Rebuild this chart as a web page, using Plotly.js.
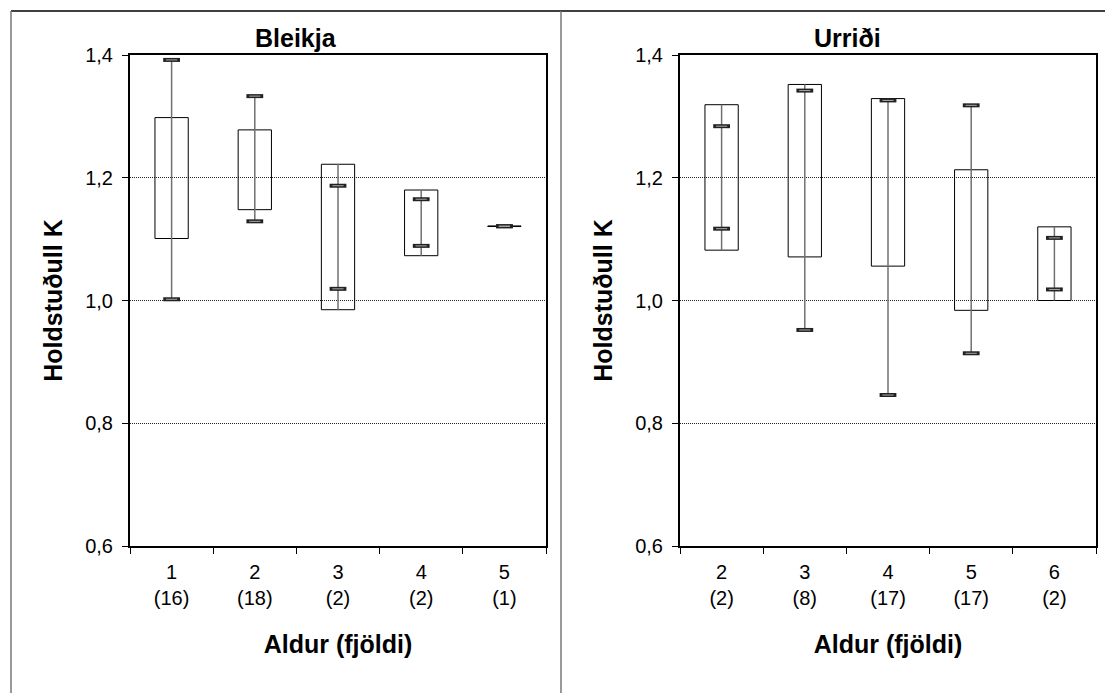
<!DOCTYPE html>
<html>
<head>
<meta charset="utf-8">
<script src="https://cdn.plot.ly/plotly-3.0.1.min.js"></script>
<style>html,body{margin:0;padding:0;background:#fff;}#chart{width:1105px;height:693px;}</style>
</head>
<body>
<div id="chart"></div>
<script>
// ---- Data: Bleikja (left panel) ----
var ageB = ['1', '2', '3', '4', '5'];
var countB = [16, 18, 2, 2, 1];
var boxTopB = [1.298, 1.278, 1.222, 1.180, 1.1215];
var boxBotB = [1.101, 1.148, 0.985, 1.073, 1.1205];
var maxB = [1.392, 1.333, 1.187, 1.165, 1.121];
var minB = [1.002, 1.129, 1.019, 1.089, 1.121];

// ---- Data: Urriði (right panel) ----
var ageU = ['2', '3', '4', '5', '6'];
var countU = [2, 8, 17, 17, 2];
var boxTopU = [1.319, 1.352, 1.329, 1.213, 1.120];
var boxBotU = [1.082, 1.071, 1.056, 0.984, 1.000];
var maxU = [1.284, 1.342, 1.326, 1.318, 1.102];
var minU = [1.117, 0.952, 0.846, 0.914, 1.018];

var panelTitles = ['Bleikja', 'Urriði'];
var yTitle = 'Holdstuðull K';
var xTitle = 'Aldur (fjöldi)';
var yTicks = [0.6, 0.8, 1.0, 1.2, 1.4];

function cats(ages, counts) {
  return ages.map(function (a, i) { return a + '<br>(' + counts[i] + ')'; });
}

function panelTraces(ages, counts, top, bot, mx, mn, xa, ya) {
  var c = cats(ages, counts);
  var boxes = {
    type: 'bar', x: c, base: bot,
    y: top.map(function (t, i) { return t - bot[i]; }),
    width: 0.4,
    marker: { color: 'rgba(0,0,0,0)', line: { color: '#000', width: 1 } },
    xaxis: xa, yaxis: ya, hoverinfo: 'skip'
  };
  var lx = [], ly = [];
  c.forEach(function (cat, i) {
    var hi = Math.max(top[i], mx[i]);
    var lo = Math.min(bot[i], mn[i]);
    lx.push(cat, cat, cat);
    ly.push(hi, lo, null);
  });
  var hiLo = {
    type: 'scatter', mode: 'lines', x: lx, y: ly,
    line: { color: '#707070', width: 1.5 },
    xaxis: xa, yaxis: ya, hoverinfo: 'skip'
  };
  var mxAll = c.concat(c);
  var myAll = mx.concat(mn);
  var markOuter = {
    type: 'scatter', mode: 'markers', x: mxAll, y: myAll,
    marker: { symbol: 'line-ew', size: 12, line: { color: '#222', width: 4 } },
    xaxis: xa, yaxis: ya, hoverinfo: 'skip'
  };
  var markInner = {
    type: 'scatter', mode: 'markers', x: mxAll, y: myAll,
    marker: { symbol: 'line-ew', size: 8, line: { color: '#aaa', width: 1 } },
    xaxis: xa, yaxis: ya, hoverinfo: 'skip'
  };
  return [boxes, hiLo, markOuter, markInner];
}

var data = panelTraces(ageB, countB, boxTopB, boxBotB, maxB, minB, 'x', 'y')
  .concat(panelTraces(ageU, countU, boxTopU, boxBotU, maxU, minU, 'x2', 'y2'));

var W = 1105, H = 693;
var FONT = 'Liberation Sans, Arial, sans-serif';

function xAxis(domain, anchor) {
  return {
    domain: domain, anchor: anchor, type: 'category',
    tickson: 'boundaries', ticks: 'outside', ticklen: 6, tickwidth: 1, tickcolor: '#000',
    ticklabelstandoff: 7,
    showline: true, linecolor: '#000', linewidth: 2, mirror: true,
    showgrid: false, zeroline: false, automargin: false,
    tickfont: { family: FONT, size: 20, color: '#000' },
    title: { text: xTitle, font: { family: FONT, size: 25, color: '#000', weight: 'bold' }, standoff: 27 },
    fixedrange: true
  };
}
function yAxis(domain, anchor) {
  return {
    domain: domain, anchor: anchor, range: [0.6, 1.4],
    tickmode: 'array', tickvals: yTicks, tickformat: '.1f',
    ticks: 'outside', ticklen: 6, tickwidth: 1, tickcolor: '#000',
    ticklabelstandoff: 5,
    showline: true, linecolor: '#000', linewidth: 2, mirror: true,
    showgrid: true, gridcolor: '#222', gridwidth: 1, griddash: '1px,1px',
    zeroline: false, automargin: false,
    tickfont: { family: FONT, size: 20, color: '#000' },
    title: { text: yTitle, font: { family: FONT, size: 25, color: '#000', weight: 'bold' }, standoff: 15 },
    fixedrange: true
  };
}

var yDom = [1 - 546 / H, 1 - 55 / H];

var layout = {
  width: W, height: H,
  margin: { l: 0, r: 0, t: 0, b: 0 },
  paper_bgcolor: '#fff', plot_bgcolor: 'rgba(0,0,0,0)',
  separators: ',.',
  showlegend: false,
  barmode: 'overlay',
  font: { family: FONT, color: '#000' },
  xaxis: xAxis([130 / W, 546 / W], 'y'),
  yaxis: yAxis(yDom, 'x'),
  xaxis2: xAxis([680 / W, 1096 / W], 'y2'),
  yaxis2: yAxis(yDom, 'x2'),
  annotations: [
    { text: '<b>' + panelTitles[0] + '</b>', xref: 'paper', yref: 'paper', x: 296 / W, y: 1 - 38 / H,
      xanchor: 'center', yanchor: 'middle', showarrow: false, font: { family: FONT, size: 25, color: '#000' } },
    { text: '<b>' + panelTitles[1] + '</b>', xref: 'paper', yref: 'paper', x: 847 / W, y: 1 - 38 / H,
      xanchor: 'center', yanchor: 'middle', showarrow: false, font: { family: FONT, size: 25, color: '#000' } }
  ],
  shapes: [
    { type: 'line', xref: 'paper', yref: 'paper', x0: 11 / W, x1: 1.01, y0: 1 - 11 / H, y1: 1 - 11 / H,
      line: { color: '#000', width: 1.5 } },
    { type: 'line', xref: 'paper', yref: 'paper', x0: 11 / W, x1: 11 / W, y0: 1 - 11 / H, y1: -0.01,
      line: { color: '#777', width: 1.5 } },
    { type: 'line', xref: 'paper', yref: 'paper', x0: 561 / W, x1: 561 / W, y0: 1 - 11 / H, y1: -0.01,
      line: { color: '#777', width: 1.5 } }
  ]
};

Plotly.newPlot('chart', data, layout, { staticPlot: true, displayModeBar: false });
</script>
</body>
</html>
